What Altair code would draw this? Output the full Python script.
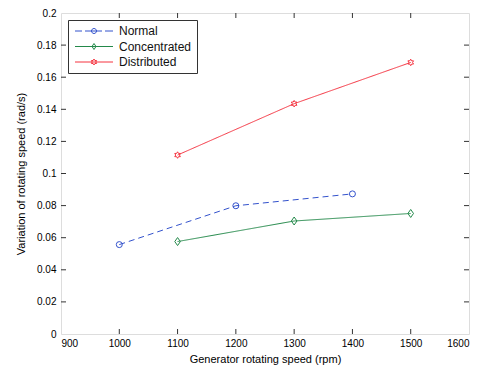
import altair as alt
import pandas as pd

series_names = ["Normal", "Concentrated", "Distributed"]
normal_speed = [1000, 1200, 1400]
normal_var = [0.0557, 0.0799, 0.0873]
conc_speed = [1100, 1300, 1500]
conc_var = [0.0576, 0.0704, 0.0751]
dist_speed = [1100, 1300, 1500]
dist_var = [0.1115, 0.1435, 0.1692]

x_ticks = [900, 1000, 1100, 1200, 1300, 1400, 1500, 1600]
y_ticks = [0, 0.02, 0.04, 0.06, 0.08, 0.1, 0.12, 0.14, 0.16, 0.18, 0.2]
x_inner_ticks = [1000, 1100, 1200, 1300, 1400, 1500]
y_inner_ticks = [0.02, 0.04, 0.06, 0.08, 0.1, 0.12, 0.14, 0.16, 0.18]

colors = ["#3352cc", "#23894a", "#f5323f"]
dashes = [[6, 4], [1, 0], [1, 0]]

W, H = 408, 321
FONT = "Liberation Sans"
TXT = "#222222"

rows = []
for name, xs, ys in [("Normal", normal_speed, normal_var),
                     ("Concentrated", conc_speed, conc_var),
                     ("Distributed", dist_speed, dist_var)]:
    for xv, yv in zip(xs, ys):
        rows.append({"series": name, "speed": xv, "value": yv})
df = pd.DataFrame(rows)
xt_df = pd.DataFrame({"speed": x_inner_ticks})
yt_df = pd.DataFrame({"value": y_inner_ticks})

xscale = alt.Scale(domain=[900, 1600], nice=False, zero=False)
yscale = alt.Scale(domain=[0, 0.2], nice=False)
cscale = alt.Scale(domain=series_names, range=colors)

xaxis = alt.Axis(values=x_ticks, format="d", title="Generator rotating speed (rpm)",
                 grid=False, ticks=False, domain=False, labelPadding=4,
                 titlePadding=5, titleFontWeight="normal")
yaxis = alt.Axis(values=y_ticks, format="~g", title="Variation of rotating speed (rad/s)",
                 grid=False, ticks=False, domain=False, labelPadding=5,
                 titlePadding=10, titleFontWeight="normal")

X = alt.X("speed:Q", scale=xscale, axis=xaxis)
Y = alt.Y("value:Q", scale=yscale, axis=yaxis)

circle_shape = "circle"
diamond_shape = "M0,-1 L0.7,0 L0,1 L-0.7,0 Z"
hexagram = [(0, -1), (0.289, -0.5), (0.866, -0.5), (0.577, 0), (0.866, 0.5), (0.289, 0.5),
            (0, 1), (-0.289, 0.5), (-0.866, 0.5), (-0.577, 0), (-0.866, -0.5), (-0.289, -0.5)]


def hexpath(cx, r):
    pts = [f"{cx + px * r:.3f},{py * r:.3f}" for px, py in hexagram]
    return "M" + " L".join(pts) + " Z"


hex_shape = hexpath(0, 1)

data_layers = []
for name, col, dash, shp, sz in [("Normal", colors[0], dashes[0], circle_shape, 36),
                                 ("Concentrated", colors[1], dashes[1], diamond_shape, 64),
                                 ("Distributed", colors[2], dashes[2], hex_shape, 42)]:
    base = alt.Chart(df).transform_filter(alt.datum.series == name)
    data_layers.append(
        base.mark_line(strokeWidth=1, color=col, strokeDash=dash).encode(x=X, y=Y)
    )
    data_layers.append(
        base.mark_point(shape=shp, size=sz, filled=False, strokeWidth=1, opacity=1, color=col)
        .encode(x=X, y=Y)
    )

leg_normal = ("M-0.8,0 L0.6,0 M1.2,0 L4.6,0 M5.2,0 L6.8,0 "
              "M3.5,0 A0.5,0.5 0 1,1 2.5,0 A0.5,0.5 0 1,1 3.5,0")
leg_conc = "M-0.8,0 L6.8,0 M3,-0.6 L3.4,0 L3,0.6 L2.6,0 Z"
leg_dist = "M-0.8,0 L6.8,0 " + hexpath(3, 0.6)

legend = alt.Legend(title=None, orient="top-left", offset=7, padding=5,
                    strokeColor="#333333", fillColor="white",
                    labelFont=FONT, labelFontSize=12, labelColor="#111111",
                    labelOffset=34, rowPadding=3.5, symbolSize=100,
                    symbolStrokeWidth=1)

legend_layer = alt.Chart(df).transform_filter("false").mark_point(
    size=100, filled=False, strokeWidth=1, opacity=1
).encode(
    color=alt.Color("series:N", scale=cscale, legend=legend),
    shape=alt.Shape("series:N",
                    scale=alt.Scale(domain=series_names, range=[leg_normal, leg_conc, leg_dist]),
                    legend=legend),
)

xtick_b = alt.Chart(xt_df).mark_rule(color="#333333", strokeWidth=1).encode(
    x=alt.X("speed:Q", scale=xscale, axis=xaxis), y=alt.value(H), y2=alt.value(H - 5))
xtick_t = alt.Chart(xt_df).mark_rule(color="#333333", strokeWidth=1).encode(
    x=alt.X("speed:Q", scale=xscale, axis=xaxis), y=alt.value(0), y2=alt.value(5))
ytick_l = alt.Chart(yt_df).mark_rule(color="#333333", strokeWidth=1).encode(
    y=alt.Y("value:Q", scale=yscale, axis=yaxis), x=alt.value(0), x2=alt.value(5))
ytick_r = alt.Chart(yt_df).mark_rule(color="#333333", strokeWidth=1).encode(
    y=alt.Y("value:Q", scale=yscale, axis=yaxis), x=alt.value(W), x2=alt.value(W - 5))

chart = alt.layer(
    xtick_b, xtick_t, ytick_l, ytick_r, *data_layers, legend_layer
).properties(
    width=W, height=H,
    autosize=alt.AutoSizeParams(type="none"),
    padding={"left": 53, "top": 5, "right": 12, "bottom": 34},
).configure_view(
    stroke="#333333", strokeWidth=1
).configure_axis(
    labelFont=FONT, labelFontSize=11, labelColor=TXT,
    titleFont=FONT, titleFontSize=12, titleFontWeight="normal", titleColor=TXT,
).configure(background="white")

chart.save("out.html", embed_options={"renderer": "svg", "actions": False})
